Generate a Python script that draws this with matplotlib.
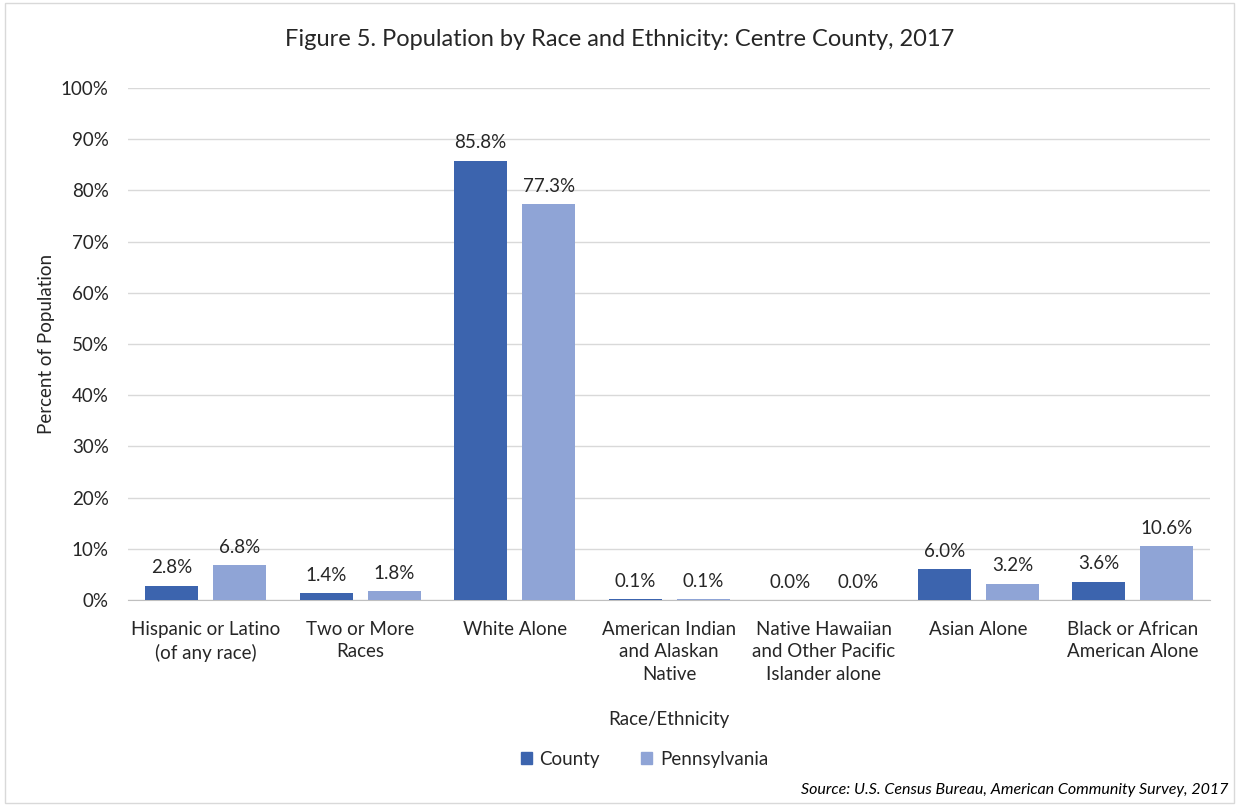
import matplotlib.pyplot as plt
import numpy as np
from matplotlib.patches import Rectangle
from matplotlib.ticker import PercentFormatter

plt.rcParams["font.family"] = ["Lato", "DejaVu Sans"]

# --- Data ---
categories = [
    "Hispanic or Latino\n(of any race)",
    "Two or More\nRaces",
    "White Alone",
    "American Indian\nand Alaskan\nNative",
    "Native Hawaiian\nand Other Pacific\nIslander alone",
    "Asian Alone",
    "Black or African\nAmerican Alone",
]
county = [2.8, 1.4, 85.8, 0.1, 0.0, 6.0, 3.6]
pennsylvania = [6.8, 1.8, 77.3, 0.1, 0.0, 3.2, 10.6]

COUNTY_COLOR = "#3C64AE"
PA_COLOR = "#8FA4D6"
TEXT = "#262626"
FS = 13.5

fig = plt.figure(figsize=(12.39, 8.06), dpi=100)
ax = fig.add_axes([0.1035, 0.2556, 0.8733, 0.6352])

x = np.arange(len(categories))
w = 0.343
b1 = ax.bar(x - 0.22, county, w, color=COUNTY_COLOR, zorder=3)
b2 = ax.bar(x + 0.22, pennsylvania, w, color=PA_COLOR, zorder=3)

for bars, vals in ((b1, county), (b2, pennsylvania)):
    for rect, v in zip(bars, vals):
        ax.text(rect.get_x() + rect.get_width() / 2, v + 1.8, f"{v:.1f}%",
                ha="center", va="bottom", fontsize=FS, color=TEXT)

ax.set_xlim(-0.5, len(categories) - 0.5)
ax.set_ylim(0, 100)
ax.set_yticks(range(0, 101, 10))
ax.yaxis.set_major_formatter(PercentFormatter(decimals=0))
ax.set_xticks(x)
ax.set_xticklabels(categories, fontsize=FS, color=TEXT, linespacing=1.4, va="top")
ax.tick_params(axis="y", labelsize=FS, colors=TEXT, length=0, pad=14)
ax.tick_params(axis="x", length=0, pad=15)
ax.grid(axis="y", color="#D9D9D9", linewidth=1, zorder=0)
for s in ("top", "right", "left"):
    ax.spines[s].set_visible(False)
ax.spines["bottom"].set_color("#BFBFBF")

ax.set_ylabel("Percent of Population", fontsize=FS, color=TEXT, labelpad=4)
fig.text(0.1035 + 0.8733 / 2, 1 - 720 / 806, "Race/Ethnicity", ha="center",
         va="center", fontsize=FS, color=TEXT)
fig.text(0.5, 1 - 40 / 806, "Figure 5. Population by Race and Ethnicity: Centre County, 2017",
         ha="center", va="center", fontsize=17, color=TEXT)

handles = [Rectangle((0, 0), 1, 1, color=COUNTY_COLOR), Rectangle((0, 0), 1, 1, color=PA_COLOR)]
fig.legend(handles, ["County", "Pennsylvania"], loc="center", bbox_to_anchor=(0.52, 1 - 759 / 806),
           ncol=2, frameon=False, fontsize=FS, handlelength=0.6, handleheight=0.6,
           handletextpad=0.4, columnspacing=2.2, labelcolor=TEXT)

fig.text(1228 / 1239, 1 - 790 / 806, "Source: U.S. Census Bureau, American Community Survey, 2017",
         ha="right", va="center", fontsize=11.5, style="italic", color="#000000")

fig.patches.append(Rectangle((0.004, 0.004), 0.992, 0.992, transform=fig.transFigure,
                             fill=False, edgecolor="#D9D9D9", linewidth=1))

fig.savefig("out.png", dpi=100, facecolor="white")
